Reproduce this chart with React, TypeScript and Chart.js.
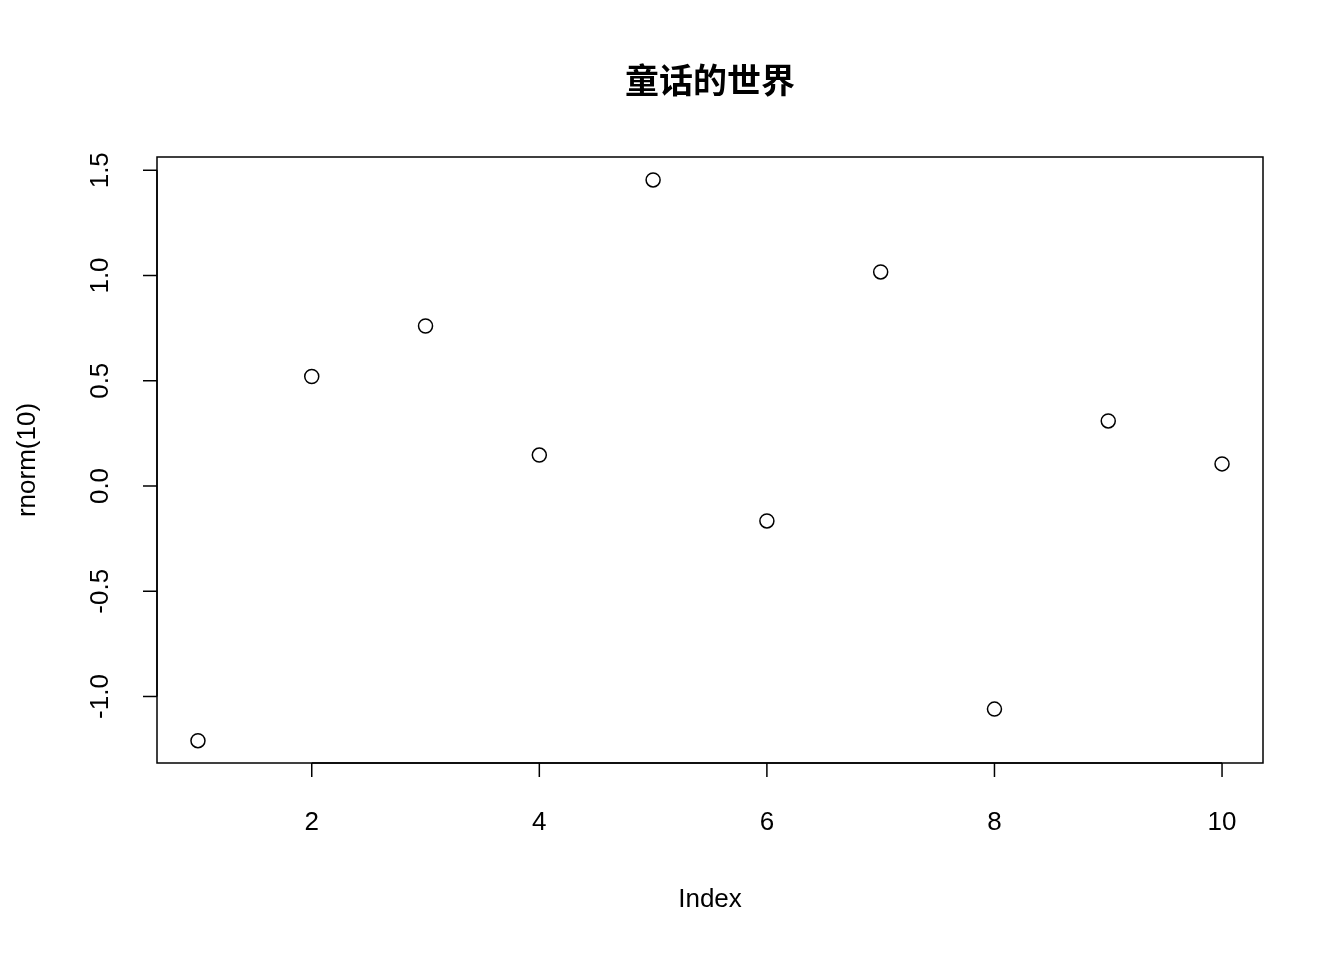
import { useEffect, useRef } from "react"
import Chart from "chart.js/auto"

const indexValues = [1, 2, 3, 4, 5, 6, 7, 8, 9, 10]
const rnormValues = [-1.21, 0.52, 0.76, 0.147, 1.454, -0.166, 1.017, -1.06, 0.309, 0.105]
const xTicks = [2, 4, 6, 8, 10]
const yTicks = [-1.0, -0.5, 0.0, 0.5, 1.0, 1.5]
const titleText = "童话的世界"
const xLabel = "Index"
const yLabel = "rnorm(10)"

const FONT = "Liberation Sans, Arial, Helvetica, sans-serif"

const rAxes = {
  id: "rAxes",
  afterDraw(chart: any) {
    const ctx = chart.ctx
    const { left, right, top, bottom } = chart.chartArea
    const xs = chart.scales.x
    const ys = chart.scales.y
    ctx.save()
    ctx.strokeStyle = "#000"
    ctx.fillStyle = "#000"
    ctx.lineWidth = 1.5
    ctx.strokeRect(left, top, right - left, bottom - top)

    // x axis
    ctx.beginPath()
    ctx.moveTo(xs.getPixelForValue(xTicks[0]), bottom)
    ctx.lineTo(xs.getPixelForValue(xTicks[xTicks.length - 1]), bottom)
    ctx.stroke()
    ctx.font = `26px ${FONT}`
    ctx.textAlign = "center"
    ctx.textBaseline = "middle"
    xTicks.forEach((t) => {
      const px = xs.getPixelForValue(t)
      ctx.beginPath()
      ctx.moveTo(px, bottom)
      ctx.lineTo(px, bottom + 14)
      ctx.stroke()
      ctx.fillText(String(t), px, bottom + 60)
    })

    // y axis
    ctx.beginPath()
    ctx.moveTo(left, ys.getPixelForValue(yTicks[0]))
    ctx.lineTo(left, ys.getPixelForValue(yTicks[yTicks.length - 1]))
    ctx.stroke()
    yTicks.forEach((t) => {
      const py = ys.getPixelForValue(t)
      ctx.beginPath()
      ctx.moveTo(left, py)
      ctx.lineTo(left - 14, py)
      ctx.stroke()
      ctx.save()
      ctx.translate(left - 56, py)
      ctx.rotate(-Math.PI / 2)
      ctx.fillText(t.toFixed(1), 0, 0)
      ctx.restore()
    })

    const cx = (left + right) / 2
    ctx.fillText(xLabel, cx, 900)
    ctx.save()
    ctx.translate(28, (top + bottom) / 2)
    ctx.rotate(-Math.PI / 2)
    ctx.fillText(yLabel, 0, 0)
    ctx.restore()

    ctx.font = `bold 34px "Noto Sans CJK SC", ${FONT}`
    ctx.fillText(titleText, cx, 80)
    ctx.restore()
  },
}

export default function App() {
  const chartRef = useRef<HTMLCanvasElement>(null)
  const chartInstance = useRef<Chart | null>(null)

  useEffect(() => {
    if (!chartRef.current) return
    if (chartInstance.current) chartInstance.current.destroy()

    chartInstance.current = new Chart(chartRef.current, {
      type: "scatter",
      data: {
        datasets: [
          {
            data: indexValues.map((x, i) => ({ x, y: rnormValues[i] })),
            pointRadius: 7,
            pointBorderWidth: 1.5,
            pointBorderColor: "#000",
            pointBackgroundColor: "rgba(0,0,0,0)",
          },
        ],
      },
      options: {
        responsive: false,
        animation: false,
        layout: { padding: { left: 0, right: 81, top: 157, bottom: 0 } },
        plugins: { legend: { display: false }, tooltip: { enabled: false } },
        scales: {
          x: {
            type: "linear",
            min: 0.64,
            max: 10.36,
            grid: { display: false },
            border: { display: false },
            ticks: { display: false },
            afterFit: (s: any) => { s.height = 197 },
          },
          y: {
            type: "linear",
            min: -1.316,
            max: 1.563,
            grid: { display: false },
            border: { display: false },
            ticks: { display: false },
            afterFit: (s: any) => { s.width = 157 },
          },
        },
      },
      plugins: [rAxes],
    })

    return () => {
      if (chartInstance.current) chartInstance.current.destroy()
    }
  }, [])

  return (
    <div style={{ position: "absolute", left: 0, top: 0, width: 1344, height: 960, background: "#fff" }}>
      <canvas ref={chartRef} width={1344} height={960} />
    </div>
  )
}
